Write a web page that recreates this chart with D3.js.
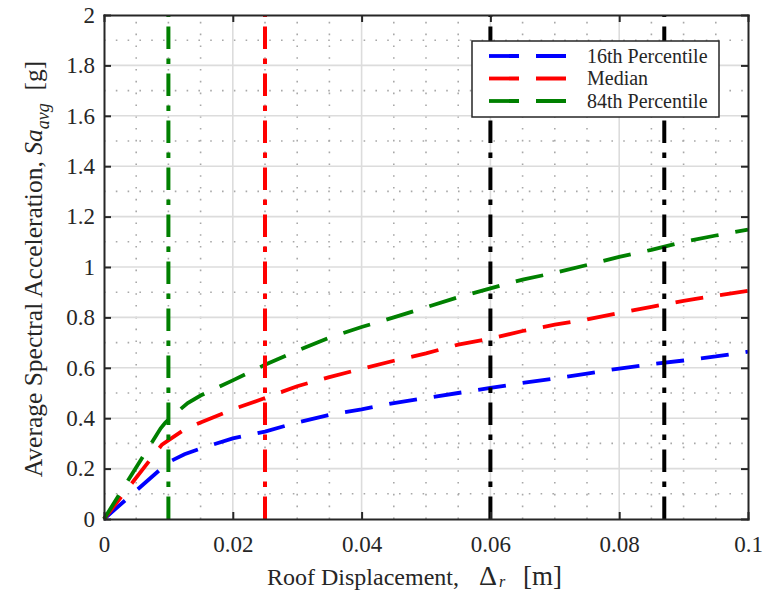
<!DOCTYPE html>
<html><head><meta charset="utf-8">
<script src="https://cdn.jsdelivr.net/npm/d3@7"></script>
<style>body{margin:0;background:#fff}svg{display:block}text{font-family:"Liberation Serif","DejaVu Serif",serif;fill:#262626}</style>
</head><body><svg id="c" width="773" height="591"></svg>
<script>
const xTicks = [0, 0.02, 0.04, 0.06, 0.08, 0.1];
const xTickLabels = ["0", "0.02", "0.04", "0.06", "0.08", "0.1"];
const yTicks = [0, 0.2, 0.4, 0.6, 0.8, 1, 1.2, 1.4, 1.6, 1.8, 2];
const yTickLabels = ["0", "0.2", "0.4", "0.6", "0.8", "1", "1.2", "1.4", "1.6", "1.8", "2"];
const seriesNames = ["16th Percentile", "Median", "84th Percentile"];
const seriesColors = ["#0000ff", "#ff0000", "#008000"];
const p16X = [0, 0.01, 0.0125, 0.015, 0.02, 0.025, 0.03, 0.035, 0.04, 0.045, 0.05, 0.055, 0.06, 0.065, 0.07, 0.075, 0.08, 0.085, 0.09, 0.095, 0.1];
const p16Y = [0, 0.225, 0.257, 0.28, 0.32, 0.347, 0.383, 0.413, 0.435, 0.46, 0.48, 0.50, 0.52, 0.54, 0.558, 0.577, 0.597, 0.614, 0.629, 0.645, 0.664];
const medX = [0, 0.009, 0.0125, 0.015, 0.02, 0.025, 0.03, 0.035, 0.04, 0.045, 0.05, 0.055, 0.06, 0.065, 0.07, 0.075, 0.08, 0.085, 0.09, 0.095, 0.1];
const medY = [0, 0.295, 0.355, 0.383, 0.435, 0.48, 0.527, 0.563, 0.596, 0.628, 0.657, 0.692, 0.716, 0.746, 0.771, 0.792, 0.818, 0.842, 0.866, 0.886, 0.905];
const p84X = [0, 0.0088, 0.0095, 0.0102, 0.013, 0.015, 0.02, 0.025, 0.03, 0.035, 0.04, 0.045, 0.05, 0.055, 0.06, 0.065, 0.07, 0.075, 0.08, 0.085, 0.09, 0.095, 0.1];
const p84Y = [0, 0.36, 0.382, 0.40, 0.46, 0.49, 0.55, 0.612, 0.668, 0.72, 0.762, 0.80, 0.84, 0.88, 0.915, 0.95, 0.977, 1.008, 1.04, 1.068, 1.10, 1.125, 1.148];
const vLineX = [0.01, 0.025, 0.06, 0.087];
const vLineColors = ["#008000", "#ff0000", "#000000", "#000000"];

const SERIF = '"Liberation Serif","DejaVu Serif",serif';
const svg = d3.select("#c");
const L = 104, R = 748, T = 15, B = 519;
const x = d3.scaleLinear().domain([0, 0.1]).range([L, R]);
const y = d3.scaleLinear().domain([0, 2]).range([B, T]);

// minor dotted grid
const minorX = d3.range(0, 0.1001, 0.005).filter(v => Math.abs(v / 0.02 - Math.round(v / 0.02)) > 1e-6);
const minorY = d3.range(0.1, 2, 0.2);
const g = svg.append("g");
g.selectAll(".mx").data(minorX).join("line")
  .attr("x1", d => x(d)).attr("x2", d => x(d)).attr("y1", B).attr("y2", T)
  .attr("stroke", "#a8a8a8").attr("stroke-width", 1.6).attr("stroke-dasharray", "1.6,10.2");
g.selectAll(".my").data(minorY).join("line")
  .attr("y1", d => y(d)).attr("y2", d => y(d)).attr("x1", L).attr("x2", R)
  .attr("stroke", "#a8a8a8").attr("stroke-width", 1.6).attr("stroke-dasharray", "1.6,10.2");
// major grid
g.selectAll(".gx").data(xTicks.slice(1, -1)).join("line")
  .attr("x1", d => x(d)).attr("x2", d => x(d)).attr("y1", B).attr("y2", T)
  .attr("stroke", "#dcdcdc").attr("stroke-width", 1.6);
g.selectAll(".gy").data(yTicks.slice(1, -1)).join("line")
  .attr("y1", d => y(d)).attr("y2", d => y(d)).attr("x1", L).attr("x2", R)
  .attr("stroke", "#dcdcdc").attr("stroke-width", 1.6);

// curves
const line = d3.line().x(d => x(d[0])).y(d => y(d[1]));
const series = [d3.zip(p16X, p16Y), d3.zip(medX, medY), d3.zip(p84X, p84Y)];
series.forEach((s, i) => {
  svg.append("path").datum(s).attr("d", line).attr("fill", "none")
    .attr("stroke", seriesColors[i]).attr("stroke-width", 3.8)
    .attr("stroke-dasharray", "28,17");
});

// vertical dash-dot lines
vLineX.forEach((v, i) => {
  svg.append("line").attr("x1", x(v)).attr("x2", x(v)).attr("y1", y(0)).attr("y2", y(2))
    .attr("stroke", vLineColors[i]).attr("stroke-width", 4)
    .attr("stroke-dasharray", "22.5,9.5,5.5,9.5");
});

// axes
const ax = svg.append("g").attr("class", "axes");
const mkAxis = (axis, tr) => {
  const a = ax.append("g").attr("transform", tr).call(axis);
  a.attr("font-family", null).attr("font-size", null);
  a.select(".domain").attr("stroke", "#262626").attr("stroke-width", 2);
  a.selectAll(".tick line").attr("stroke", "#262626").attr("stroke-width", 2);
  a.selectAll("text").style("font-family", SERIF).style("font-size", "23px").attr("fill", "#262626");
  return a;
};
mkAxis(d3.axisBottom(x).tickValues(xTicks).tickFormat((d, i) => xTickLabels[i]).tickSizeInner(-7).tickSizeOuter(0).tickPadding(17), `translate(0,${B})`);
mkAxis(d3.axisTop(x).tickValues(xTicks).tickFormat("").tickSizeInner(-7).tickSizeOuter(0), `translate(0,${T})`);
mkAxis(d3.axisLeft(y).tickValues(yTicks).tickFormat((d, i) => yTickLabels[i]).tickSizeInner(-7).tickSizeOuter(0).tickPadding(9), `translate(${L},0)`);
mkAxis(d3.axisRight(y).tickValues(yTicks).tickFormat("").tickSizeInner(-7).tickSizeOuter(0), `translate(${R},0)`);
ax.selectAll("path.domain").attr("stroke-linecap", "square");

// axis titles
const tt = svg.append("g").style("font-family", SERIF).style("font-size", "24px");
tt.append("text").attr("x", 267).attr("y", 585).text("Roof Displacement,");
tt.append("text").attr("x", 479).attr("y", 585).style("font-size", "28px").text("\u0394");
tt.append("text").attr("x", 499).attr("y", 587).style("font-size", "16px").style("font-style", "italic").text("r");
tt.append("text").attr("x", 523).attr("y", 585).style("font-size", "27px").text("[m]");

const yt = tt.append("text").attr("transform", `translate(42,${(T + B) / 2 + 2}) rotate(-90)`).attr("text-anchor", "middle").style("font-size", "25.5px");
yt.append("tspan").text("Average Spectral Acceleration, ");
yt.append("tspan").text("Sa").style("font-style", "italic");
yt.append("tspan").text("avg").style("font-style", "italic").style("font-size", "18px").attr("dy", 7);
yt.append("tspan").text("\u00a0\u00a0[g]").attr("dy", -7);

// legend
const lg = svg.append("g");
lg.append("rect").attr("x", 472).attr("y", 41).attr("width", 247).attr("height", 76)
  .attr("fill", "#fff").attr("stroke", "#262626").attr("stroke-width", 1.5);
seriesNames.forEach((n, i) => {
  const yy = 56 + i * 22.5;
  lg.append("line").attr("x1", 489).attr("x2", 566).attr("y1", yy).attr("y2", yy)
    .attr("stroke", seriesColors[i]).attr("stroke-width", 3.8).attr("stroke-dasharray", "30,17");
  lg.append("text").attr("x", 587).attr("y", yy + 6.5).style("font-family", SERIF).style("font-size", "20px").attr("fill", "#000").text(n);
});
</script></body></html>
